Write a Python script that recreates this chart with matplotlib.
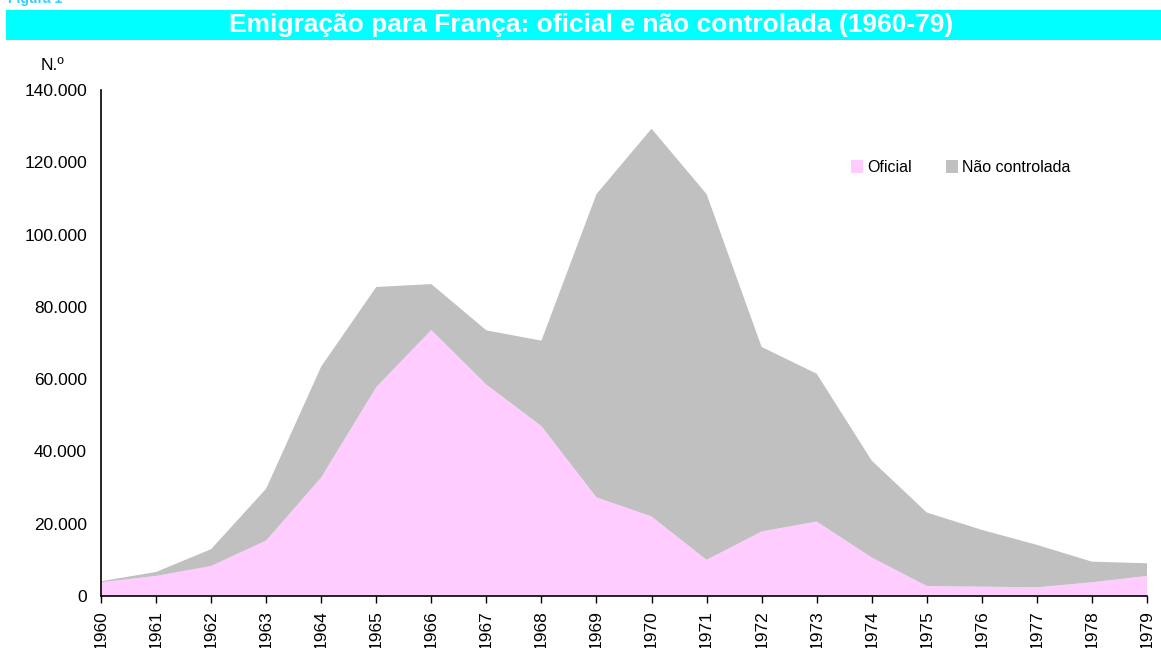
import matplotlib.pyplot as plt
from matplotlib.patches import Rectangle
from matplotlib.ticker import FuncFormatter

plt.rcParams['font.family'] = ['Liberation Sans', 'DejaVu Sans']

years = list(range(1960, 1980))
# values
oficial = [3800, 5550, 8300, 15350, 32800, 57800, 73600, 58500, 47000, 27300,
           22000, 10000, 17850, 20600, 10650, 2770, 2590, 2400, 3800, 5550]
total = [4080, 6650, 12950, 29700, 63500, 85500, 86300, 73500, 70650, 111200,
         129300, 111200, 68900, 61500, 37450, 23100, 18300, 14150, 9500, 9050]
nao_controlada = [t - o for t, o in zip(total, oficial)]

pink = '#FFCCFF'
grey = '#C0C0C0'

fig = plt.figure(figsize=(11.61, 6.48), dpi=100)
ax = fig.add_axes([101 / 1161, 52 / 648, 1046 / 1161, 506 / 648])

ax.stackplot(years, oficial, nao_controlada, colors=[pink, grey],
             labels=['Oficial', 'Não controlada'], linewidth=0)

ax.set_xlim(1960, 1979)
ax.set_ylim(0, 140000)
ax.set_xticks(years)
ax.set_xticklabels([str(y) for y in years], rotation=90, fontsize=12.5)
ax.set_yticks(range(0, 140001, 20000))
ax.yaxis.set_major_formatter(FuncFormatter(lambda v, p: f'{int(v):,}'.replace(',', '.')))
ax.tick_params(axis='y', length=0, pad=10, labelsize=12.5)
ax.tick_params(axis='x', length=5, width=1, direction='out', pad=5)
for s in ['top', 'right']:
    ax.spines[s].set_visible(False)
for s in ['left', 'bottom']:
    ax.spines[s].set_linewidth(1.2)
    ax.spines[s].set_color('black')

ax.legend(loc='upper left', bbox_to_anchor=(0.703, 0.89), ncol=2, frameon=False,
          fontsize=11.5, handlelength=0.8, handleheight=0.8, handletextpad=0.25,
          columnspacing=2.1)

# title banner
fig.patches.append(Rectangle((6 / 1161, 1 - 40 / 648), 1 - 6 / 1161, 30 / 648,
                             transform=fig.transFigure, facecolor='#00FFFF',
                             edgecolor='none'))
fig.text(591 / 1161, 1 - 25 / 648, 'Emigração para França: oficial e não controlada (1960-79)',
         ha='center', va='center', color='white', fontsize=19, fontweight='bold')
fig.text(8 / 1161, 1 + 1 / 648, 'Figura 1', ha='left', va='center', color='#33CCFF',
         fontsize=10, fontweight='bold')
fig.text(52 / 1161, 1 - 65 / 648, 'N.º', ha='center', va='center', fontsize=12.5)

fig.savefig('out.png', dpi=100)
